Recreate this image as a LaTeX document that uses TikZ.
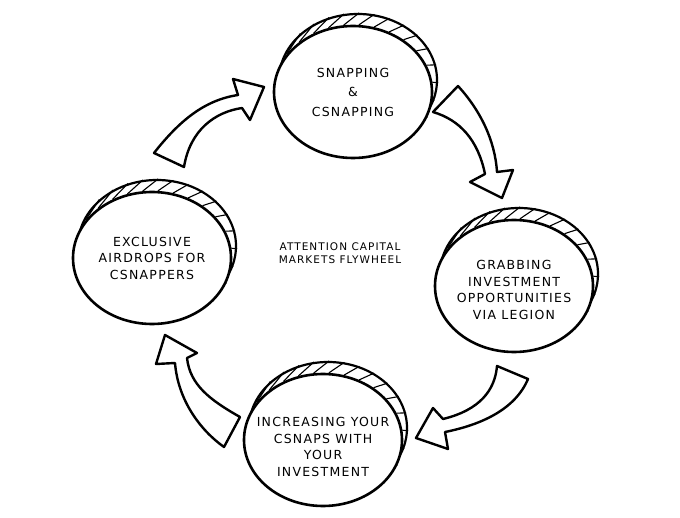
\documentclass[tikz,border=0pt]{standalone}
\usepackage{fontspec}
\newfontfamily\handfont[LetterSpace=10]{DejaVu Sans}
\usetikzlibrary{shapes.geometric,backgrounds}

\tikzset{
	coin/.style={ellipse,draw,line width=2.6pt,fill=white,minimum width=158pt,minimum height=132pt,inner sep=0pt},
	coinback/.style={ellipse,draw,line width=2.2pt,fill=white,minimum width=158pt,minimum height=132pt,inner sep=0pt},
	cointext/.style={align=center,font=\handfont\fontsize{12.5}{16.5}\selectfont},
	hatch/.style={line width=1.1pt},
	flowarrow/.style={draw,line width=2.4pt,fill=white,line join=round},
}

\begin{document}
\begin{tikzpicture}[x=1pt,y=-1pt]
	\useasboundingbox (0,0) rectangle (680,518);
	% front faces of the coins
	\node[coin,label={[cointext,font=\handfont\fontsize{12.5}{19.5}\selectfont]center:SNAPPING\\\&\\CSNAPPING}] (snapF) at (353,92) {};
	\node[coin,label={[cointext,yshift=-4pt]center:GRABBING\\INVESTMENT\\OPPORTUNITIES\\VIA LEGION}] (grabF) at (514,286) {};
	\node[coin,label={[cointext,yshift=-7pt]center:INCREASING YOUR\\CSNAPS WITH\\YOUR\\INVESTMENT}] (incrF) at (323,440) {};
	\node[coin,label={[cointext]center:EXCLUSIVE\\AIRDROPS FOR\\CSNAPPERS}] (exclF) at (152,258) {};
	% rims behind them
	\begin{pgfonlayer}{background}
		\foreach \c in {snap,grab,incr,excl}
		{
			\node[coinback] (\c B) at ([xshift=5pt,yshift=12pt]\c F.center) {};
			\foreach \a [evaluate=\a as \b using int(\a-9)] in {150,137,...,-30}
				\draw[hatch] (\c F.\a) -- (\c B.\b);
		}
	\end{pgfonlayer}
	\node[align=center,font=\handfont\fontsize{10.5}{13}\selectfont] (title) at (340,253) {ATTENTION CAPITAL\\MARKETS FLYWHEEL};
	% arrows round the wheel
	\draw[flowarrow] (154,153) .. controls (180,120) and (205,100) .. (238,95) -- (233,79) -- (264,87) -- (250,120) -- (242,108) .. controls (215,112) and (190,130) .. (184,167) -- cycle;
	\draw[flowarrow] (433,112) -- (458,86) .. controls (480,110) and (495,140) .. (497,172) -- (513,170) -- (502,198) -- (470,182) -- (485,174) .. controls (478,140) and (460,120) .. (433,112) -- cycle;
	\draw[flowarrow] (528,379) -- (497,366) .. controls (495,390) and (480,410) .. (443,419) -- (433,408) -- (416,438) -- (448,449) -- (445,432) .. controls (480,425) and (515,410) .. (528,379) -- cycle;
	\draw[flowarrow] (224,447) -- (240,417) .. controls (210,400) and (190,385) .. (187,358) -- (197,353) -- (165,335) -- (156,364) -- (175,363) .. controls (178,400) and (200,430) .. (224,447) -- cycle;
\end{tikzpicture}
\end{document}
